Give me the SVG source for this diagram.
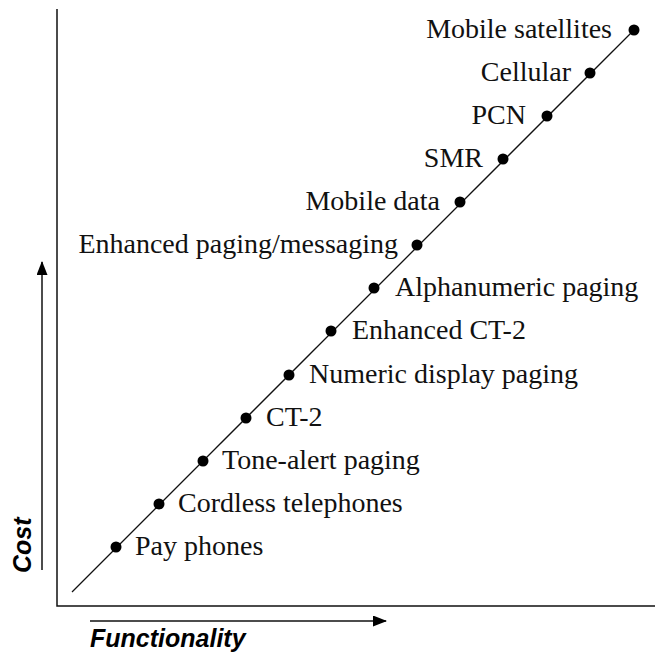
<svg xmlns="http://www.w3.org/2000/svg" width="658" height="656" viewBox="0 0 658 656">
<style>
.ax{stroke:#111;stroke-width:1.5;fill:none}
.ln{stroke:#111;stroke-width:1.3;fill:none}
.dot{fill:#000}
.lbl{font-family:"Liberation Serif","Times New Roman",serif;font-size:28px;fill:#111}
.r{text-anchor:start}
.l{text-anchor:end}
.axl{font-family:"Liberation Sans",Arial,sans-serif;font-size:25px;font-weight:bold;font-style:italic;fill:#000}
</style>
<defs>
<marker id="ah" markerWidth="14" markerHeight="11" refX="13" refY="5.5" orient="auto" markerUnits="userSpaceOnUse">
<path d="M0,0 L14,5.5 L0,11 Z" fill="#000"/>
</marker>
</defs>
<rect width="658" height="656" fill="#fff"/>
<g id="axes">
<path class="ax" d="M57,9 L57,606 L655,606"/>
<line class="ax" x1="42" y1="570" x2="42" y2="262" marker-end="url(#ah)"/>
<line class="ax" x1="90" y1="621" x2="386" y2="621" marker-end="url(#ah)"/>
<text class="axl" transform="translate(31,573) rotate(-90)">Cost</text>
<text class="axl" x="90" y="647">Functionality</text>
</g>
<g id="connectors">
<line class="ln" x1="72" y1="592" x2="634" y2="30"/>
</g>
<g id="n1"><circle class="dot" cx="116" cy="547" r="5.5"/><text class="lbl r" x="135" y="555">Pay phones</text></g>
<g id="n2"><circle class="dot" cx="159" cy="504" r="5.5"/><text class="lbl r" x="178" y="512">Cordless telephones</text></g>
<g id="n3"><circle class="dot" cx="203" cy="461" r="5.5"/><text class="lbl r" x="222" y="469">Tone-alert paging</text></g>
<g id="n4"><circle class="dot" cx="246" cy="418" r="5.5"/><text class="lbl r" x="266" y="426">CT-2</text></g>
<g id="n5"><circle class="dot" cx="289" cy="375" r="5.5"/><text class="lbl r" x="309" y="383">Numeric display paging</text></g>
<g id="n6"><circle class="dot" cx="331" cy="331" r="5.5"/><text class="lbl r" x="352" y="339">Enhanced CT-2</text></g>
<g id="n7"><circle class="dot" cx="374" cy="288" r="5.5"/><text class="lbl r" x="395" y="296">Alphanumeric paging</text></g>
<g id="n8"><circle class="dot" cx="417" cy="245" r="5.5"/><text class="lbl l" x="398" y="253">Enhanced paging/messaging</text></g>
<g id="n9"><circle class="dot" cx="460" cy="202" r="5.5"/><text class="lbl l" x="440" y="210">Mobile data</text></g>
<g id="n10"><circle class="dot" cx="503" cy="159" r="5.5"/><text class="lbl l" x="483" y="167">SMR</text></g>
<g id="n11"><circle class="dot" cx="547" cy="116" r="5.5"/><text class="lbl l" x="526" y="124">PCN</text></g>
<g id="n12"><circle class="dot" cx="590" cy="73" r="5.5"/><text class="lbl l" x="571" y="81">Cellular</text></g>
<g id="n13"><circle class="dot" cx="634" cy="30" r="5.5"/><text class="lbl l" x="612" y="38">Mobile satellites</text></g>
</svg>
